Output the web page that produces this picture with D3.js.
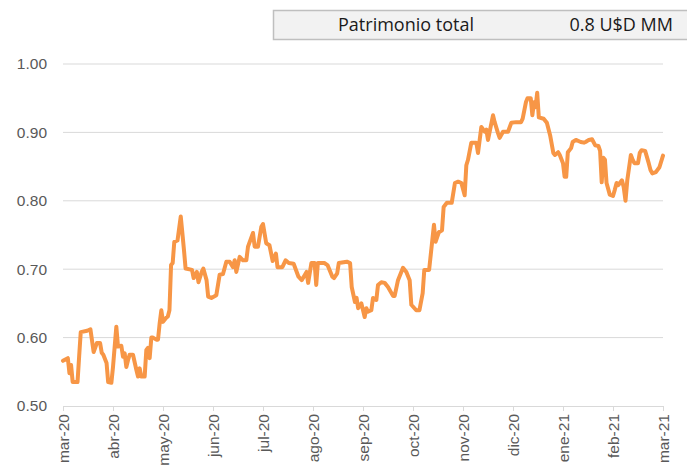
<!DOCTYPE html>
<html>
<head>
<meta charset="utf-8">
<script src="https://cdn.jsdelivr.net/npm/d3@7"></script>
<style>
  body { margin: 0; background: #fff; }
  svg { display: block; font-family: "Open Sans", "Noto Sans", sans-serif; }
</style>
</head>
<body>
<svg id="chart" width="687" height="472"></svg>
<script>
// month labels of the x axis (one tick per month, Excel style)
var monthLabels = ["mar-20", "abr-20", "may-20", "jun-20", "jul-20", "ago-20", "sep-20",
  "oct-20", "nov-20", "dic-20", "ene-21", "feb-21", "mar-21"];
var yTicks = [0.50, 0.60, 0.70, 0.80, 0.90, 1.00];

var legendLabel = "Patrimonio total";
var legendValue = "0.8 U$D MM";

// patrimonio (U$D MM)
var dates = [
  "2020-03-01", "2020-03-04", "2020-03-05", "2020-03-06", "2020-03-07", "2020-03-10", "2020-03-11", "2020-03-12",
  "2020-03-16", "2020-03-18", "2020-03-20", "2020-03-22", "2020-03-24", "2020-03-25", "2020-03-26", "2020-03-28",
  "2020-03-29", "2020-03-31",
  "2020-04-01", "2020-04-03", "2020-04-04", "2020-04-06", "2020-04-07", "2020-04-08", "2020-04-09", "2020-04-10",
  "2020-04-11", "2020-04-13", "2020-04-15", "2020-04-16", "2020-04-17", "2020-04-18", "2020-04-20", "2020-04-21",
  "2020-04-22", "2020-04-23", "2020-04-24", "2020-04-25", "2020-04-27", "2020-04-28", "2020-04-29", "2020-04-30",
  "2020-05-01", "2020-05-03", "2020-05-04", "2020-05-05", "2020-05-06", "2020-05-07", "2020-05-08", "2020-05-10",
  "2020-05-12", "2020-05-13", "2020-05-14", "2020-05-15", "2020-05-19", "2020-05-20", "2020-05-22", "2020-05-23",
  "2020-05-25", "2020-05-26", "2020-05-28", "2020-05-29", "2020-05-31",
  "2020-06-03", "2020-06-05", "2020-06-07", "2020-06-09", "2020-06-11", "2020-06-13", "2020-06-14", "2020-06-15",
  "2020-06-17", "2020-06-19", "2020-06-21", "2020-06-22", "2020-06-25", "2020-06-26", "2020-06-28", "2020-06-30",
  "2020-07-01", "2020-07-03", "2020-07-05", "2020-07-07", "2020-07-09", "2020-07-10", "2020-07-13", "2020-07-15",
  "2020-07-17", "2020-07-20", "2020-07-23", "2020-07-25", "2020-07-28", "2020-07-29", "2020-07-31",
  "2020-08-02", "2020-08-03", "2020-08-04", "2020-08-08", "2020-08-10", "2020-08-13", "2020-08-14", "2020-08-16",
  "2020-08-17", "2020-08-22", "2020-08-24", "2020-08-25", "2020-08-27", "2020-08-28", "2020-08-29", "2020-08-31",
  "2020-09-02", "2020-09-03", "2020-09-04", "2020-09-06", "2020-09-07", "2020-09-09", "2020-09-10", "2020-09-12",
  "2020-09-14", "2020-09-16", "2020-09-19", "2020-09-20", "2020-09-22", "2020-09-25", "2020-09-27", "2020-09-29",
  "2020-09-30",
  "2020-10-03", "2020-10-05", "2020-10-07", "2020-10-08", "2020-10-11", "2020-10-13", "2020-10-14", "2020-10-15",
  "2020-10-17", "2020-10-19", "2020-10-20", "2020-10-22", "2020-10-25", "2020-10-27", "2020-10-29", "2020-10-31",
  "2020-11-02", "2020-11-03", "2020-11-04", "2020-11-06", "2020-11-09", "2020-11-10", "2020-11-12", "2020-11-14",
  "2020-11-15", "2020-11-16", "2020-11-19", "2020-11-20", "2020-11-22", "2020-11-23", "2020-11-25", "2020-11-28",
  "2020-11-30",
  "2020-12-03", "2020-12-06", "2020-12-07", "2020-12-09", "2020-12-10", "2020-12-12", "2020-12-13", "2020-12-14",
  "2020-12-15", "2020-12-16", "2020-12-17", "2020-12-20", "2020-12-22", "2020-12-24", "2020-12-26", "2020-12-27",
  "2020-12-29", "2020-12-30",
  "2021-01-01", "2021-01-02", "2021-01-03", "2021-01-04", "2021-01-06", "2021-01-07", "2021-01-09", "2021-01-12",
  "2021-01-14", "2021-01-15", "2021-01-17", "2021-01-19", "2021-01-21", "2021-01-23", "2021-01-24", "2021-01-25",
  "2021-01-26", "2021-01-27", "2021-01-28", "2021-01-30",
  "2021-02-01", "2021-02-02", "2021-02-03", "2021-02-04", "2021-02-06", "2021-02-07", "2021-02-08", "2021-02-09",
  "2021-02-11", "2021-02-12", "2021-02-13", "2021-02-15", "2021-02-16", "2021-02-17", "2021-02-19", "2021-02-21",
  "2021-02-22", "2021-02-23", "2021-02-25", "2021-02-27", "2021-03-01"
];
var values = [
  0.566, 0.570, 0.548, 0.560, 0.535, 0.535, 0.572, 0.608,
  0.610, 0.612, 0.579, 0.592, 0.592, 0.578, 0.575, 0.563,
  0.535, 0.534,
  0.557, 0.616, 0.587, 0.588, 0.572, 0.577, 0.557, 0.567,
  0.575, 0.575, 0.553, 0.543, 0.555, 0.543, 0.543, 0.582,
  0.585, 0.570, 0.600, 0.600, 0.597, 0.597, 0.621, 0.640,
  0.623, 0.629, 0.631, 0.640, 0.706, 0.709, 0.740, 0.742,
  0.777, 0.753, 0.728, 0.701, 0.699, 0.687, 0.696, 0.681,
  0.696, 0.701, 0.684, 0.660, 0.658,
  0.662, 0.692, 0.693, 0.711, 0.711, 0.703, 0.713, 0.696,
  0.718, 0.713, 0.713, 0.733, 0.753, 0.733, 0.733, 0.762,
  0.766, 0.738, 0.735, 0.712, 0.723, 0.703, 0.703, 0.713,
  0.709, 0.708, 0.689, 0.684, 0.696, 0.680, 0.709,
  0.709, 0.677, 0.709, 0.709, 0.706, 0.689, 0.687, 0.694,
  0.709, 0.711, 0.709, 0.674, 0.652, 0.658, 0.643, 0.650,
  0.630, 0.643, 0.638, 0.640, 0.658, 0.655, 0.677, 0.681,
  0.680, 0.674, 0.661, 0.661, 0.684, 0.702, 0.696, 0.684,
  0.648,
  0.640, 0.640, 0.665, 0.699, 0.699, 0.743, 0.765, 0.740,
  0.754, 0.757, 0.791, 0.797, 0.797, 0.826, 0.828, 0.826,
  0.808, 0.852, 0.860, 0.885, 0.885, 0.870, 0.908, 0.901,
  0.904, 0.889, 0.925, 0.915, 0.899, 0.892, 0.901, 0.901,
  0.914,
  0.915, 0.915, 0.920, 0.944, 0.950, 0.950, 0.925, 0.944,
  0.937, 0.958, 0.922, 0.920, 0.914, 0.896, 0.870, 0.867,
  0.871, 0.867,
  0.855, 0.835, 0.835, 0.871, 0.877, 0.886, 0.889, 0.886,
  0.885, 0.886, 0.889, 0.890, 0.881, 0.880, 0.873, 0.827,
  0.863, 0.860, 0.826, 0.809,
  0.807, 0.816, 0.826, 0.823, 0.830, 0.820, 0.800, 0.830,
  0.867, 0.860, 0.855, 0.855, 0.870, 0.874, 0.873, 0.855,
  0.845, 0.840, 0.842, 0.849, 0.866
];

var svg = d3.select("#chart");
var margin = {left: 63, right: 24, top: 64, bottom: 66};
var width = 687 - margin.left - margin.right;
var height = 472 - margin.top - margin.bottom;

var parse = d3.timeParse("%Y-%m-%d");
var start = parse("2020-03-01");

// the axis gives every month the same width, so map dates to "months since start"
function monthPos(d) {
  var m0 = d3.timeMonth.floor(d);
  var m1 = d3.timeMonth.offset(m0, 1);
  return d3.timeMonth.count(start, m0) + (d - m0) / (m1 - m0);
}

var x = d3.scaleLinear().domain([0, monthLabels.length - 1]).range([0, width]);
var y = d3.scaleLinear().domain([0.5, 1.0]).range([height, 0]);

var g = svg.append("g").attr("transform", "translate(" + margin.left + "," + margin.top + ")");

// horizontal gridlines
g.selectAll(".grid").data(yTicks.slice(1)).enter()
  .append("line")
  .attr("class", "grid")
  .attr("x1", 0).attr("x2", width)
  .attr("y1", function (d) { return y(d); })
  .attr("y2", function (d) { return y(d); })
  .attr("stroke", "#d9d9d9").attr("stroke-width", 1);

// y axis labels
var yAxis = d3.axisLeft(y).tickValues(yTicks).tickFormat(d3.format(".2f")).tickSize(0).tickPadding(16);
g.append("g").call(yAxis)
  .call(function (s) { s.select(".domain").remove(); })
  .selectAll("text")
  .attr("fill", "#595959").style("font-size", "15.5px");

// x axis
var xAxis = d3.axisBottom(x).tickValues(d3.range(monthLabels.length))
  .tickFormat(function (i) { return monthLabels[i]; })
  .tickSizeInner(5).tickSizeOuter(0);
var xg = g.append("g").attr("transform", "translate(0," + height + ")").call(xAxis);
xg.select(".domain").attr("stroke", "#d9d9d9");
xg.selectAll(".tick line").attr("stroke", "#d9d9d9");
xg.selectAll("text")
  .attr("fill", "#595959").style("font-size", "15.5px")
  .attr("transform", "rotate(-90)")
  .attr("text-anchor", "end")
  .attr("x", -8).attr("y", 0).attr("dy", "0.35em");

// the line
var points = dates.map(function (d, i) { return {pos: monthPos(parse(d)), v: values[i]}; });
var line = d3.line()
  .x(function (d) { return x(d.pos); })
  .y(function (d) { return y(d.v); });

g.append("path")
  .datum(points)
  .attr("d", line)
  .attr("fill", "none")
  .attr("stroke", "#f79646")
  .attr("stroke-width", 4)
  .attr("stroke-linejoin", "round")
  .attr("stroke-linecap", "round");

// legend box at the top
var lg = svg.append("g");
lg.append("rect")
  .attr("x", 273.5).attr("y", 10.5).attr("width", 420).attr("height", 29)
  .attr("fill", "#f2f2f2").attr("stroke", "#bfbfbf").attr("stroke-width", 1.5);
lg.append("text")
  .attr("x", 406).attr("y", 31).attr("text-anchor", "middle")
  .attr("fill", "#1a1a1a").style("font-size", "18px")
  .text(legendLabel);
lg.append("text")
  .attr("x", 673).attr("y", 31).attr("text-anchor", "end")
  .attr("fill", "#1a1a1a").style("font-size", "18px")
  .text(legendValue);
</script>
</body>
</html>
